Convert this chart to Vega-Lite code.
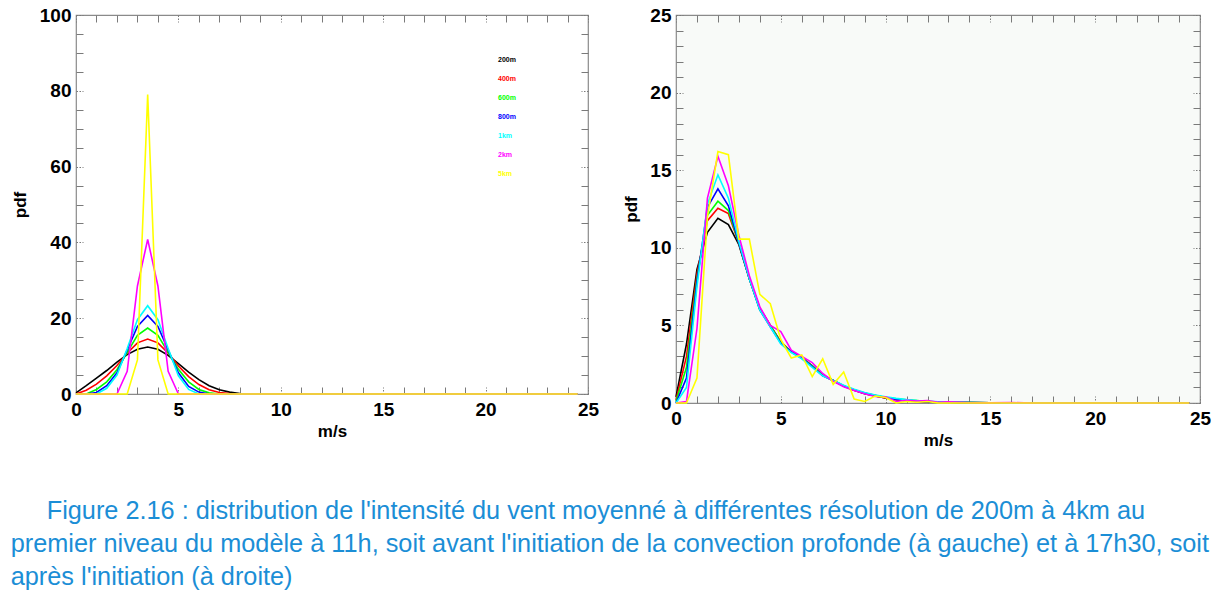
{
"$schema": "https://vega.github.io/schema/vega-lite/v6.json",
"background": "white",
"padding": {"left": 10, "top": 5, "right": 0, "bottom": 0},
"autosize": {"type": "pad"},
"spacing": 22,
"columns": 2,
"title": {
  "text": [
    "\u2800\u2800Figure 2.16 : distribution de l'intensité du vent moyenné à différentes résolution de 200m à 4km au",
    "premier niveau du modèle à 11h, soit avant l'initiation de la convection profonde (à gauche) et à 17h30, soit",
    "après l'initiation (à droite)"
  ],
  "orient": "bottom", "anchor": "start", "align": "left",
  "font": "Liberation Sans",
  "fontSize": 25.3, "fontWeight": "normal", "color": "#1b8ed6",
  "lineHeight": 33, "offset": 50
},
"datasets": {
  "left": [
    {"res":"200m","speed":0,"pdf":0.3},{"res":"200m","speed":0.5,"pdf":2.2},{"res":"200m","speed":1,"pdf":4.2},{"res":"200m","speed":1.5,"pdf":6.2},{"res":"200m","speed":2,"pdf":8.4},{"res":"200m","speed":2.5,"pdf":10.4},{"res":"200m","speed":3,"pdf":11.8},{"res":"200m","speed":3.5,"pdf":12.4},{"res":"200m","speed":4,"pdf":11.8},{"res":"200m","speed":4.5,"pdf":10.2},{"res":"200m","speed":5,"pdf":8.0},{"res":"200m","speed":5.5,"pdf":5.8},{"res":"200m","speed":6,"pdf":3.8},{"res":"200m","speed":6.5,"pdf":2.2},{"res":"200m","speed":7,"pdf":1.1},{"res":"200m","speed":7.5,"pdf":0.5},{"res":"200m","speed":8,"pdf":0.15},{"res":"200m","speed":8.5,"pdf":0},{"res":"200m","speed":24.5,"pdf":0},
    {"res":"400m","speed":0,"pdf":0},{"res":"400m","speed":0.5,"pdf":1.0},{"res":"400m","speed":1,"pdf":2.6},{"res":"400m","speed":1.5,"pdf":4.8},{"res":"400m","speed":2,"pdf":7.5},{"res":"400m","speed":2.5,"pdf":10.8},{"res":"400m","speed":3,"pdf":13.5},{"res":"400m","speed":3.5,"pdf":14.5},{"res":"400m","speed":4,"pdf":13.5},{"res":"400m","speed":4.5,"pdf":10.8},{"res":"400m","speed":5,"pdf":7.4},{"res":"400m","speed":5.5,"pdf":4.6},{"res":"400m","speed":6,"pdf":2.5},{"res":"400m","speed":6.5,"pdf":1.1},{"res":"400m","speed":7,"pdf":0.4},{"res":"400m","speed":7.5,"pdf":0.1},{"res":"400m","speed":8,"pdf":0},{"res":"400m","speed":24.5,"pdf":0},
    {"res":"600m","speed":0,"pdf":0},{"res":"600m","speed":0.5,"pdf":0},{"res":"600m","speed":1,"pdf":1.2},{"res":"600m","speed":1.5,"pdf":3.2},{"res":"600m","speed":2,"pdf":6.4},{"res":"600m","speed":2.5,"pdf":11.0},{"res":"600m","speed":3,"pdf":15.5},{"res":"600m","speed":3.5,"pdf":17.4},{"res":"600m","speed":4,"pdf":15.5},{"res":"600m","speed":4.5,"pdf":11.0},{"res":"600m","speed":5,"pdf":6.5},{"res":"600m","speed":5.5,"pdf":3.2},{"res":"600m","speed":6,"pdf":1.2},{"res":"600m","speed":6.5,"pdf":0.3},{"res":"600m","speed":7,"pdf":0},{"res":"600m","speed":24.5,"pdf":0},
    {"res":"800m","speed":0,"pdf":0},{"res":"800m","speed":0.5,"pdf":0},{"res":"800m","speed":1,"pdf":0.4},{"res":"800m","speed":1.5,"pdf":2.2},{"res":"800m","speed":2,"pdf":5.6},{"res":"800m","speed":2.5,"pdf":11.6},{"res":"800m","speed":3,"pdf":17.8},{"res":"800m","speed":3.5,"pdf":20.7},{"res":"800m","speed":4,"pdf":17.8},{"res":"800m","speed":4.5,"pdf":11.6},{"res":"800m","speed":5,"pdf":5.6},{"res":"800m","speed":5.5,"pdf":2.0},{"res":"800m","speed":6,"pdf":0.5},{"res":"800m","speed":6.5,"pdf":0},{"res":"800m","speed":24.5,"pdf":0},
    {"res":"1km","speed":0,"pdf":0},{"res":"1km","speed":1,"pdf":0},{"res":"1km","speed":1.5,"pdf":1.5},{"res":"1km","speed":2,"pdf":5.0},{"res":"1km","speed":2.5,"pdf":12.0},{"res":"1km","speed":3,"pdf":19.6},{"res":"1km","speed":3.5,"pdf":23.3},{"res":"1km","speed":4,"pdf":19.6},{"res":"1km","speed":4.5,"pdf":12.0},{"res":"1km","speed":5,"pdf":4.8},{"res":"1km","speed":5.5,"pdf":1.2},{"res":"1km","speed":6,"pdf":0},{"res":"1km","speed":24.5,"pdf":0},
    {"res":"2km","speed":0,"pdf":0},{"res":"2km","speed":2,"pdf":0},{"res":"2km","speed":2.5,"pdf":6},{"res":"2km","speed":3,"pdf":28.5},{"res":"2km","speed":3.5,"pdf":40.8},{"res":"2km","speed":4,"pdf":28.5},{"res":"2km","speed":4.5,"pdf":6},{"res":"2km","speed":5,"pdf":0},{"res":"2km","speed":24.5,"pdf":0},
    {"res":"5km","speed":0,"pdf":0},{"res":"5km","speed":2.5,"pdf":0},{"res":"5km","speed":3,"pdf":9},{"res":"5km","speed":3.5,"pdf":79},{"res":"5km","speed":4,"pdf":9},{"res":"5km","speed":4.5,"pdf":0},{"res":"5km","speed":24.5,"pdf":0}
  ],
  "right": [
    {"res":"200m","speed":0,"pdf":0.4},{"res":"200m","speed":0.5,"pdf":3.8},{"res":"200m","speed":1,"pdf":8.6},{"res":"200m","speed":1.5,"pdf":11.0},{"res":"200m","speed":2,"pdf":11.9},{"res":"200m","speed":2.5,"pdf":11.5},{"res":"200m","speed":3,"pdf":10.2},{"res":"200m","speed":3.5,"pdf":8.0},{"res":"200m","speed":4,"pdf":6.1},{"res":"200m","speed":4.5,"pdf":5.0},{"res":"200m","speed":5,"pdf":3.9},{"res":"200m","speed":5.5,"pdf":3.3},{"res":"200m","speed":6,"pdf":2.9},{"res":"200m","speed":6.5,"pdf":2.4},{"res":"200m","speed":7,"pdf":1.8},{"res":"200m","speed":7.5,"pdf":1.45},{"res":"200m","speed":8,"pdf":1.1},{"res":"200m","speed":8.5,"pdf":0.82},{"res":"200m","speed":9,"pdf":0.6},{"res":"200m","speed":9.5,"pdf":0.45},{"res":"200m","speed":10,"pdf":0.32},{"res":"200m","speed":10.5,"pdf":0.22},{"res":"200m","speed":11,"pdf":0.15},{"res":"200m","speed":11.5,"pdf":0.1},{"res":"200m","speed":12,"pdf":0.08},{"res":"200m","speed":13,"pdf":0.05},{"res":"200m","speed":14,"pdf":0.03},{"res":"200m","speed":15,"pdf":0.02},{"res":"200m","speed":16,"pdf":0.01},{"res":"200m","speed":17,"pdf":0},{"res":"200m","speed":24.5,"pdf":0},
    {"res":"400m","speed":0,"pdf":0.2},{"res":"400m","speed":0.5,"pdf":3.0},{"res":"400m","speed":1,"pdf":8.3},{"res":"400m","speed":1.5,"pdf":11.75},{"res":"400m","speed":2,"pdf":12.55},{"res":"400m","speed":2.5,"pdf":12.2},{"res":"400m","speed":3,"pdf":10.3},{"res":"400m","speed":3.5,"pdf":8.0},{"res":"400m","speed":4,"pdf":6.1},{"res":"400m","speed":4.5,"pdf":5.0},{"res":"400m","speed":5,"pdf":3.95},{"res":"400m","speed":5.5,"pdf":3.3},{"res":"400m","speed":6,"pdf":2.95},{"res":"400m","speed":6.5,"pdf":2.4},{"res":"400m","speed":7,"pdf":1.8},{"res":"400m","speed":7.5,"pdf":1.45},{"res":"400m","speed":8,"pdf":1.1},{"res":"400m","speed":8.5,"pdf":0.82},{"res":"400m","speed":9,"pdf":0.62},{"res":"400m","speed":9.5,"pdf":0.45},{"res":"400m","speed":10,"pdf":0.33},{"res":"400m","speed":10.5,"pdf":0.23},{"res":"400m","speed":11,"pdf":0.15},{"res":"400m","speed":11.5,"pdf":0.11},{"res":"400m","speed":12,"pdf":0.08},{"res":"400m","speed":13,"pdf":0.05},{"res":"400m","speed":14,"pdf":0.03},{"res":"400m","speed":15,"pdf":0.02},{"res":"400m","speed":16,"pdf":0.02},{"res":"400m","speed":17,"pdf":0},{"res":"400m","speed":24.5,"pdf":0},
    {"res":"600m","speed":0,"pdf":0.1},{"res":"600m","speed":0.5,"pdf":2.3},{"res":"600m","speed":1,"pdf":8.0},{"res":"600m","speed":1.5,"pdf":12.1},{"res":"600m","speed":2,"pdf":13.0},{"res":"600m","speed":2.5,"pdf":12.4},{"res":"600m","speed":3,"pdf":10.3},{"res":"600m","speed":3.5,"pdf":8.0},{"res":"600m","speed":4,"pdf":6.0},{"res":"600m","speed":4.5,"pdf":5.0},{"res":"600m","speed":5,"pdf":3.9},{"res":"600m","speed":5.5,"pdf":3.3},{"res":"600m","speed":6,"pdf":2.9},{"res":"600m","speed":6.5,"pdf":2.4},{"res":"600m","speed":7,"pdf":1.8},{"res":"600m","speed":7.5,"pdf":1.45},{"res":"600m","speed":8,"pdf":1.1},{"res":"600m","speed":8.5,"pdf":0.85},{"res":"600m","speed":9,"pdf":0.63},{"res":"600m","speed":9.5,"pdf":0.48},{"res":"600m","speed":10,"pdf":0.35},{"res":"600m","speed":10.5,"pdf":0.27},{"res":"600m","speed":11,"pdf":0.2},{"res":"600m","speed":11.5,"pdf":0.15},{"res":"600m","speed":12,"pdf":0.1},{"res":"600m","speed":13,"pdf":0.05},{"res":"600m","speed":14,"pdf":0.03},{"res":"600m","speed":15,"pdf":0.02},{"res":"600m","speed":17,"pdf":0},{"res":"600m","speed":24.5,"pdf":0},
    {"res":"800m","speed":0,"pdf":0},{"res":"800m","speed":0.5,"pdf":1.6},{"res":"800m","speed":1,"pdf":7.8},{"res":"800m","speed":1.5,"pdf":12.6},{"res":"800m","speed":2,"pdf":13.8},{"res":"800m","speed":2.5,"pdf":12.7},{"res":"800m","speed":3,"pdf":10.3},{"res":"800m","speed":3.5,"pdf":8.0},{"res":"800m","speed":4,"pdf":6.0},{"res":"800m","speed":4.5,"pdf":4.9},{"res":"800m","speed":5,"pdf":3.85},{"res":"800m","speed":5.5,"pdf":3.3},{"res":"800m","speed":6,"pdf":2.9},{"res":"800m","speed":6.5,"pdf":2.35},{"res":"800m","speed":7,"pdf":1.75},{"res":"800m","speed":7.5,"pdf":1.45},{"res":"800m","speed":8,"pdf":1.1},{"res":"800m","speed":8.5,"pdf":0.85},{"res":"800m","speed":9,"pdf":0.65},{"res":"800m","speed":9.5,"pdf":0.5},{"res":"800m","speed":10,"pdf":0.35},{"res":"800m","speed":10.5,"pdf":0.25},{"res":"800m","speed":11,"pdf":0.18},{"res":"800m","speed":11.5,"pdf":0.12},{"res":"800m","speed":12,"pdf":0.08},{"res":"800m","speed":13,"pdf":0.05},{"res":"800m","speed":14,"pdf":0.03},{"res":"800m","speed":15,"pdf":0.02},{"res":"800m","speed":17,"pdf":0},{"res":"800m","speed":24.5,"pdf":0},
    {"res":"1km","speed":0,"pdf":0},{"res":"1km","speed":0.5,"pdf":1.0},{"res":"1km","speed":1,"pdf":7.5},{"res":"1km","speed":1.5,"pdf":12.8},{"res":"1km","speed":2,"pdf":14.7},{"res":"1km","speed":2.5,"pdf":13.2},{"res":"1km","speed":3,"pdf":10.4},{"res":"1km","speed":3.5,"pdf":8.0},{"res":"1km","speed":4,"pdf":6.0},{"res":"1km","speed":4.5,"pdf":4.9},{"res":"1km","speed":5,"pdf":3.8},{"res":"1km","speed":5.5,"pdf":3.25},{"res":"1km","speed":6,"pdf":2.85},{"res":"1km","speed":6.5,"pdf":2.3},{"res":"1km","speed":7,"pdf":1.75},{"res":"1km","speed":7.5,"pdf":1.45},{"res":"1km","speed":8,"pdf":1.15},{"res":"1km","speed":8.5,"pdf":0.88},{"res":"1km","speed":9,"pdf":0.68},{"res":"1km","speed":9.5,"pdf":0.52},{"res":"1km","speed":10,"pdf":0.4},{"res":"1km","speed":10.5,"pdf":0.3},{"res":"1km","speed":11,"pdf":0.22},{"res":"1km","speed":11.5,"pdf":0.16},{"res":"1km","speed":12,"pdf":0.12},{"res":"1km","speed":12.5,"pdf":0.08},{"res":"1km","speed":13,"pdf":0.06},{"res":"1km","speed":14,"pdf":0.03},{"res":"1km","speed":15,"pdf":0.02},{"res":"1km","speed":16,"pdf":0},{"res":"1km","speed":24.5,"pdf":0},
    {"res":"2km","speed":0,"pdf":0},{"res":"2km","speed":0.5,"pdf":0.1},{"res":"2km","speed":1,"pdf":4.8},{"res":"2km","speed":1.5,"pdf":13.2},{"res":"2km","speed":2,"pdf":15.9},{"res":"2km","speed":2.5,"pdf":14.0},{"res":"2km","speed":3,"pdf":10.8},{"res":"2km","speed":3.5,"pdf":8.2},{"res":"2km","speed":4,"pdf":6.2},{"res":"2km","speed":4.5,"pdf":5.0},{"res":"2km","speed":5,"pdf":4.6},{"res":"2km","speed":5.5,"pdf":3.4},{"res":"2km","speed":6,"pdf":3.0},{"res":"2km","speed":6.5,"pdf":2.6},{"res":"2km","speed":7,"pdf":1.9},{"res":"2km","speed":7.5,"pdf":1.4},{"res":"2km","speed":8,"pdf":1.05},{"res":"2km","speed":8.5,"pdf":0.8},{"res":"2km","speed":9,"pdf":0.6},{"res":"2km","speed":9.5,"pdf":0.42},{"res":"2km","speed":10,"pdf":0.4},{"res":"2km","speed":10.5,"pdf":0.1},{"res":"2km","speed":11,"pdf":0.18},{"res":"2km","speed":11.5,"pdf":0.12},{"res":"2km","speed":12,"pdf":0.15},{"res":"2km","speed":12.5,"pdf":0.05},{"res":"2km","speed":13,"pdf":0.08},{"res":"2km","speed":14,"pdf":0.02},{"res":"2km","speed":15,"pdf":0.01},{"res":"2km","speed":16,"pdf":0.03},{"res":"2km","speed":17,"pdf":0},{"res":"2km","speed":24.5,"pdf":0},
    {"res":"5km","speed":0,"pdf":0},{"res":"5km","speed":0.5,"pdf":0},{"res":"5km","speed":1,"pdf":1.6},{"res":"5km","speed":1.5,"pdf":12.0},{"res":"5km","speed":2,"pdf":16.2},{"res":"5km","speed":2.5,"pdf":16.0},{"res":"5km","speed":3,"pdf":10.56},{"res":"5km","speed":3.5,"pdf":10.56},{"res":"5km","speed":4,"pdf":7.0},{"res":"5km","speed":4.5,"pdf":6.4},{"res":"5km","speed":5,"pdf":4.1},{"res":"5km","speed":5.5,"pdf":2.9},{"res":"5km","speed":6,"pdf":3.1},{"res":"5km","speed":6.5,"pdf":1.7},{"res":"5km","speed":7,"pdf":2.85},{"res":"5km","speed":7.5,"pdf":1.2},{"res":"5km","speed":8,"pdf":2.0},{"res":"5km","speed":8.5,"pdf":0.25},{"res":"5km","speed":9,"pdf":0.1},{"res":"5km","speed":9.5,"pdf":0.45},{"res":"5km","speed":10,"pdf":0.35},{"res":"5km","speed":10.5,"pdf":0},{"res":"5km","speed":11,"pdf":0.1},{"res":"5km","speed":11.5,"pdf":0.05},{"res":"5km","speed":12,"pdf":0.1},{"res":"5km","speed":12.5,"pdf":0},{"res":"5km","speed":24.5,"pdf":0}
  ]
},
"concat": [
  {
    "width": 512, "height": 379,
    "data": {"name": "left"},
    "layer": [
      {
        "mark": {"type": "line", "strokeWidth": 1.6},
        "encoding": {
          "x": {"field": "speed", "type": "quantitative", "scale": {"domain": [0, 25], "nice": false},
            "axis": {"orient": "bottom", "values": [0,1,2,3,4,5,6,7,8,9,10,11,12,13,14,15,16,17,18,19,20,21,22,23,24,25],
              "labelExpr": "datum.value % 5 === 0 ? datum.label : ''", "labelOverlap": false, "labelFlush": false,
              "tickDash": {"condition": {"test": "datum.value % 5 === 0", "value": [1.5, 1.5]}, "value": []},
              "labelPadding": 13, "title": "m/s", "titlePadding": 4}},
          "y": {"field": "pdf", "type": "quantitative", "scale": {"domain": [0, 100], "nice": false},
            "axis": {"orient": "left", "values": [0,5,10,15,20,25,30,35,40,45,50,55,60,65,70,75,80,85,90,95,100],
              "labelExpr": "datum.value % 20 === 0 ? datum.label : ''", "labelOverlap": false, "labelFlush": false,
              "tickDash": {"condition": {"test": "datum.value % 20 === 0", "value": [1.5, 1.5]}, "value": []},
              "labelPadding": 12, "title": "pdf", "titlePadding": 10}},
          "color": {"field": "res", "type": "nominal",
            "scale": {"domain": ["200m","400m","600m","800m","1km","2km","5km"], "range": ["#000000","#ff0000","#00ff00","#0000ff","#00ffff","#ff00ff","#ffff00"]},
            "legend": {"orient": "none", "legendX": 415, "legendY": 41, "title": null, "symbolSize": 0, "symbolStrokeWidth": 0, "symbolOpacity": 0,
              "labelFont": "Liberation Sans", "labelFontWeight": "bold", "labelFontSize": 7, "labelOffset": 0, "rowPadding": 11, "padding": 0,
              "labelColor": {"expr": "datum.value === '200m' ? '#000000' : datum.value === '400m' ? '#ff0000' : datum.value === '600m' ? '#00ff00' : datum.value === '800m' ? '#0000ff' : datum.value === '1km' ? '#00ffff' : datum.value === '2km' ? '#ff00ff' : '#ffff00'"}}}
        }
      },
      {
        "mark": {"type": "point", "opacity": 0},
        "encoding": {
          "x": {"field": "speed", "type": "quantitative",
            "axis": {"orient": "top", "values": [0,1,2,3,4,5,6,7,8,9,10,11,12,13,14,15,16,17,18,19,20,21,22,23,24,25], "labels": false, "title": null,
              "tickDash": {"condition": {"test": "datum.value % 5 === 0", "value": [1.5, 1.5]}, "value": []}}},
          "y": {"field": "pdf", "type": "quantitative",
            "axis": {"orient": "right", "values": [0,5,10,15,20,25,30,35,40,45,50,55,60,65,70,75,80,85,90,95,100], "labels": false, "title": null,
              "tickDash": {"condition": {"test": "datum.value % 20 === 0", "value": [1.5, 1.5]}, "value": []}}}
        }
      }
    ],
    "resolve": {"axis": {"x": "independent", "y": "independent"}}
  },
  {
    "width": 524, "height": 388,
    "data": {"name": "right"},
    "view": {"fill": "#f8faf8"},
    "layer": [
      {
        "mark": {"type": "line", "strokeWidth": 1.6},
        "encoding": {
          "x": {"field": "speed", "type": "quantitative", "scale": {"domain": [0, 25], "nice": false},
            "axis": {"orient": "bottom", "values": [0,1,2,3,4,5,6,7,8,9,10,11,12,13,14,15,16,17,18,19,20,21,22,23,24,25],
              "labelExpr": "datum.value % 5 === 0 ? datum.label : ''", "labelOverlap": false, "labelFlush": false,
              "tickDash": {"condition": {"test": "datum.value % 5 === 0", "value": [1.5, 1.5]}, "value": []},
              "labelPadding": 13, "title": "m/s", "titlePadding": 4}},
          "y": {"field": "pdf", "type": "quantitative", "scale": {"domain": [0, 25], "nice": false},
            "axis": {"orient": "left", "values": [0,1,2,3,4,5,6,7,8,9,10,11,12,13,14,15,16,17,18,19,20,21,22,23,24,25],
              "labelExpr": "datum.value % 5 === 0 ? datum.label : ''", "labelOverlap": false, "labelFlush": false,
              "tickDash": {"condition": {"test": "datum.value % 5 === 0", "value": [1.5, 1.5]}, "value": []},
              "labelPadding": 12, "title": "pdf", "titlePadding": 9}},
          "color": {"field": "res", "type": "nominal",
            "scale": {"domain": ["200m","400m","600m","800m","1km","2km","5km"], "range": ["#000000","#ff0000","#00ff00","#0000ff","#00ffff","#ff00ff","#ffff00"]},
            "legend": {"orient": "none", "legendX": 415, "legendY": 41, "title": null, "symbolSize": 0, "symbolStrokeWidth": 0, "symbolOpacity": 0,
              "labelFont": "Liberation Sans", "labelFontWeight": "bold", "labelFontSize": 7, "labelOffset": 0, "rowPadding": 11, "padding": 0,
              "labelColor": {"expr": "datum.value === '200m' ? '#000000' : datum.value === '400m' ? '#ff0000' : datum.value === '600m' ? '#00ff00' : datum.value === '800m' ? '#0000ff' : datum.value === '1km' ? '#00ffff' : datum.value === '2km' ? '#ff00ff' : '#ffff00'"}}}
        }
      },
      {
        "mark": {"type": "point", "opacity": 0},
        "encoding": {
          "x": {"field": "speed", "type": "quantitative",
            "axis": {"orient": "top", "values": [0,1,2,3,4,5,6,7,8,9,10,11,12,13,14,15,16,17,18,19,20,21,22,23,24,25], "labels": false, "title": null,
              "tickDash": {"condition": {"test": "datum.value % 5 === 0", "value": [1.5, 1.5]}, "value": []}}},
          "y": {"field": "pdf", "type": "quantitative",
            "axis": {"orient": "right", "values": [0,1,2,3,4,5,6,7,8,9,10,11,12,13,14,15,16,17,18,19,20,21,22,23,24,25], "labels": false, "title": null,
              "tickDash": {"condition": {"test": "datum.value % 5 === 0", "value": [1.5, 1.5]}, "value": []}}}
        }
      }
    ],
    "resolve": {"axis": {"x": "independent", "y": "independent"}}
  }
],
"config": {
  "view": {"stroke": "#8a8a8a", "strokeWidth": 1.2},
  "axis": {"labelFont": "Liberation Sans", "labelFontWeight": "bold", "labelFontSize": 19, "labelColor": "#000000",
    "titleFont": "Liberation Sans", "titleFontWeight": "bold", "titleFontSize": 17, "titleColor": "#000000",
    "domain": false, "grid": false, "tickColor": "#7a7a7a", "tickWidth": 1, "tickSize": -7}
}
}
